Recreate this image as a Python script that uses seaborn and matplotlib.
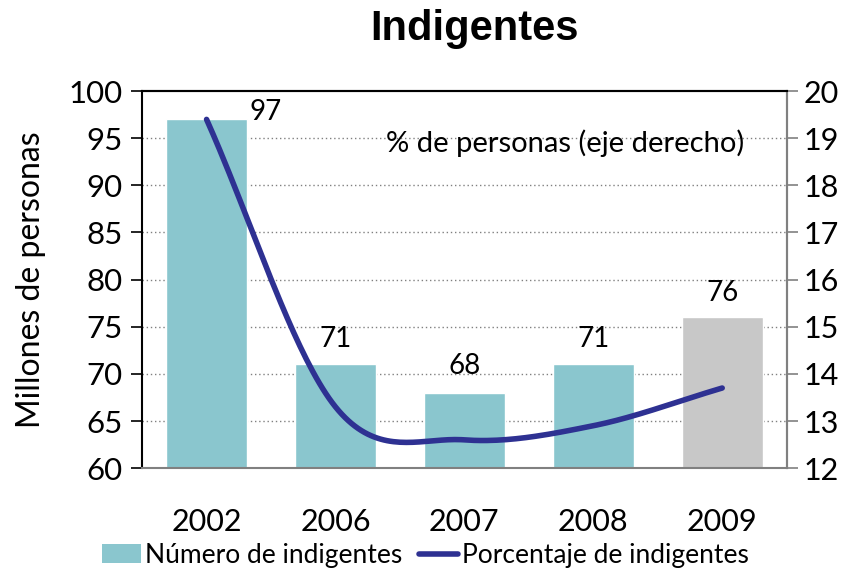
import numpy as np
import pandas as pd
import matplotlib
matplotlib.use("Agg")
import matplotlib.pyplot as plt
import seaborn as sns
from matplotlib.patches import Patch
from matplotlib.lines import Line2D

sns.set_style("white")
plt.rcParams["font.family"] = ["Lato", "DejaVu Sans"]
plt.rcParams["text.color"] = "black"
plt.rcParams["axes.labelcolor"] = "black"

# data
years = ["2002", "2006", "2007", "2008", "2009"]
millones = [97, 71, 68, 71, 76]
porcentaje = [19.4, 13.3, 12.6, 12.9, 13.7]
bar_colors = ["#8AC6CE", "#8AC6CE", "#8AC6CE", "#8AC6CE", "#C8C8C8"]
line_color = "#2E3192"


def smooth(y, n=40):
    # Catmull-Rom style smoothing, like Excel's "smoothed line"
    y = np.asarray(y, dtype=float)
    m = np.empty_like(y)
    m[1:-1] = (y[2:] - y[:-2]) / 2
    m[0] = y[1] - y[0]
    m[-1] = y[-1] - y[-2]
    xs, ys = [], []
    for i in range(len(y) - 1):
        t = np.linspace(0, 1, n, endpoint=(i == len(y) - 2))
        h00 = 2 * t**3 - 3 * t**2 + 1
        h10 = t**3 - 2 * t**2 + t
        h01 = -2 * t**3 + 3 * t**2
        h11 = t**3 - t**2
        xs.append(i + t)
        ys.append(h00 * y[i] + h10 * m[i] + h01 * y[i + 1] + h11 * m[i + 1])
    return np.concatenate(xs), np.concatenate(ys)


df = pd.DataFrame({"year": years, "millones": millones})

fig = plt.figure(figsize=(8.56, 5.73), dpi=100)
ax = fig.add_axes([0.166, 0.183, 0.753, 0.658])

sns.barplot(data=df, x="year", y="millones", hue="year", palette=bar_colors,
            legend=False, width=0.63, ax=ax, saturation=1)
ax.set_ylim(60, 100)
ax.set_xlim(-0.5, 4.5)
ax.set_yticks(range(60, 101, 5))
ax.set_xlabel("")
ax.set_ylabel("Millones de personas", fontsize=23, labelpad=16)
for y in range(65, 100, 5):
    ax.axhline(y, color="#808080", lw=1.0, ls=(0, (1, 2)), zorder=0)

ax.tick_params(axis="y", labelsize=22.5, length=8, width=1.2, direction="out",
               color="black", labelcolor="black", left=True, pad=6)
ax.tick_params(axis="x", which="major", labelsize=22, length=0, pad=29, labelcolor="black")
ax.set_xticks(np.arange(-0.5, 4.6, 1), minor=True)
ax.tick_params(axis="x", which="minor", length=8, width=1.2, color="#808080", direction="out")

for side in ["left", "top"]:
    ax.spines[side].set_color("black")
    ax.spines[side].set_linewidth(1.5)
for side in ["right", "bottom"]:
    ax.spines[side].set_color("#808080")
    ax.spines[side].set_linewidth(1.5)

# data labels
label_pos = [(0.46, 0.8), (0, 2.7), (0, 2.8), (0, 2.7), (0, 2.6)]
for i, v in enumerate(millones):
    dx, dy = label_pos[i]
    ax.text(i + dx, v + dy, str(v), ha="center", va="center", fontsize=20)

ax2 = ax.twinx()
xs, ys = smooth(porcentaje)
sns.lineplot(x=xs, y=ys, color=line_color, lw=4, ax=ax2, sort=False)
ax2.set_ylim(12, 20)
ax2.set_yticks(range(12, 21))
ax2.tick_params(axis="y", labelsize=22, length=8, width=1.2, direction="out",
                color="#808080", labelcolor="black", right=True, pad=4)
for side in ["left", "bottom"]:
    ax2.spines[side].set_visible(False)
ax2.spines["right"].set_color("#808080")
ax2.spines["right"].set_linewidth(1.5)
ax2.spines["top"].set_color("black")
ax2.spines["top"].set_linewidth(1.5)

ax2.text(2.78, 18.9, "% de personas (eje derecho)", ha="center", va="center", fontsize=21)

fig.suptitle("Indigentes", x=0.554, y=0.985, fontsize=30, fontweight="bold",
             family=["Liberation Sans", "DejaVu Sans"])

handles = [Patch(facecolor="#8AC6CE", edgecolor="none"),
           Line2D([0], [0], color=line_color, lw=4)]
fig.legend(handles, ["Número de indigentes", "Porcentaje de indigentes"],
           loc="center", bbox_to_anchor=(0.497, 0.031), ncol=2, frameon=False,
           fontsize=19, handlelength=1.5, handletextpad=0.15, columnspacing=0.6)

fig.savefig("out.png", dpi=100)
